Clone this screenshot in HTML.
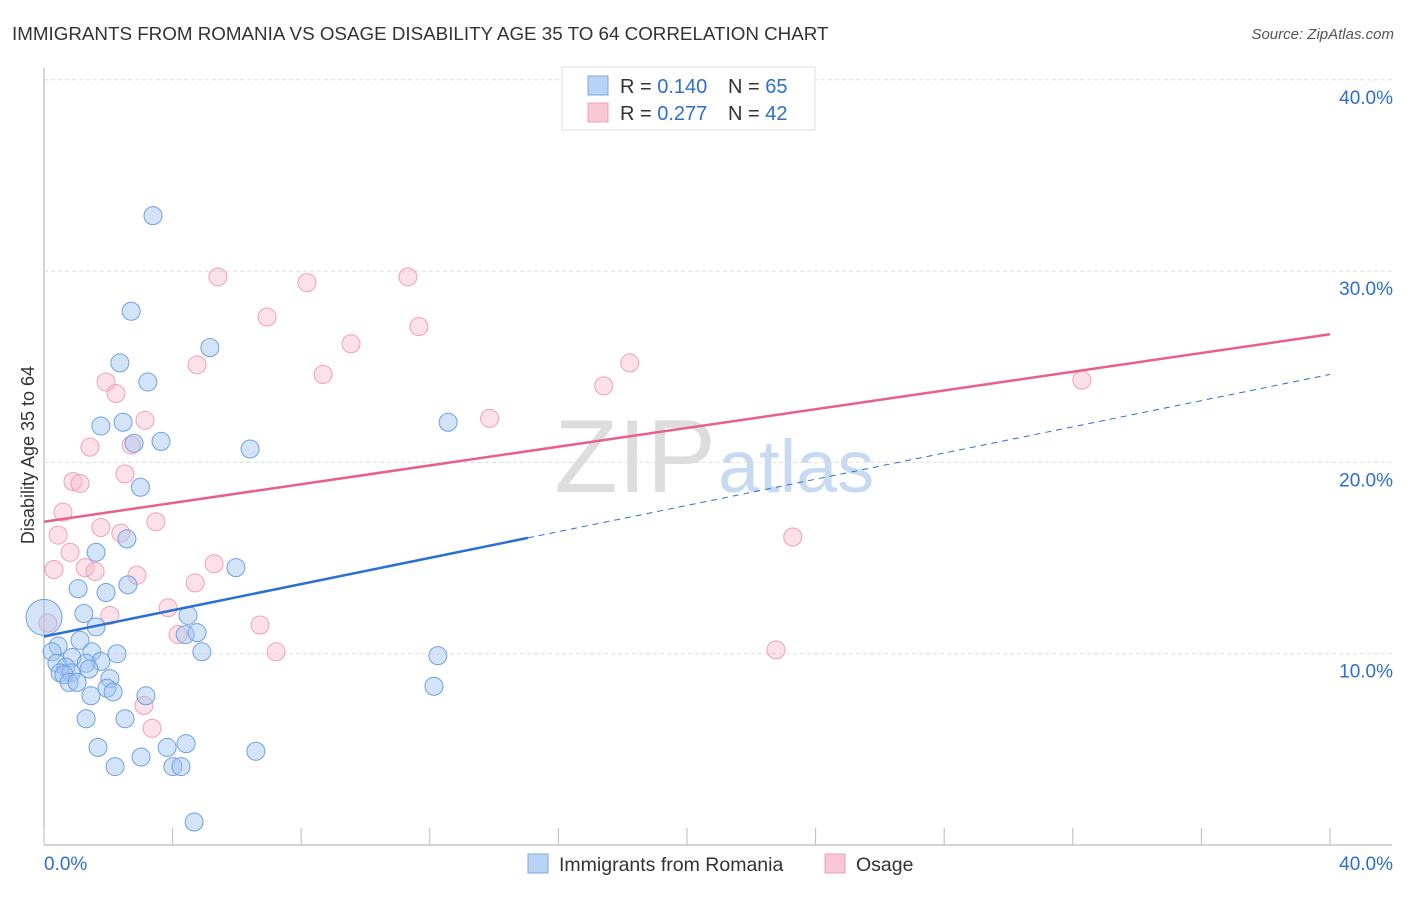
<!DOCTYPE html>
<html><head><meta charset="utf-8"><style>
body{margin:0;background:#fff;font-family:"Liberation Sans",sans-serif}
svg text{font-family:"Liberation Sans",sans-serif}
</style></head><body>
<svg id="c" width="1406" height="892">
<text x="12" y="40" font-size="18.8" fill="#333">IMMIGRANTS FROM ROMANIA VS OSAGE DISABILITY AGE 35 TO 64 CORRELATION CHART</text>
<text x="1394" y="39" font-size="15" fill="#555" text-anchor="end" font-style="italic">Source: ZipAtlas.com</text>
<text x="716" y="492" font-size="104" fill="#ddd" text-anchor="end" font-family="Liberation Serif">ZIP</text>
<text x="718" y="492" font-size="74" fill="#c8daf2">atlas</text>
<g id="grid"></g><g id="marks"></g>
<text transform="translate(34,455) rotate(-90)" font-size="18" fill="#333" text-anchor="middle">Disability Age 35 to 64</text>
<g>
<rect x="562" y="67" width="253" height="63" fill="#fff" stroke="#ddd"/>
<rect x="588" y="76" width="20" height="19" fill="#b8d3f4" stroke="#7aa8e0"/>
<rect x="588" y="103" width="20" height="19" fill="#f9c8d6" stroke="#f0a0b8"/>
<text x="620" y="93" font-size="20" fill="#333">R = <tspan fill="#2d6fcc">0.140</tspan></text>
<text x="728" y="93" font-size="20" fill="#333">N = <tspan fill="#2d6fcc">65</tspan></text>
<text x="620" y="120" font-size="20" fill="#333">R = <tspan fill="#2d6fcc">0.277</tspan></text>
<text x="728" y="120" font-size="20" fill="#333">N = <tspan fill="#2d6fcc">42</tspan></text>
</g>
<g>
<rect x="528" y="854" width="20" height="19" fill="#b8d3f4" stroke="#7aa8e0"/>
<text x="559" y="871" font-size="19.5" fill="#333">Immigrants from Romania</text>
<rect x="825" y="854" width="20" height="19" fill="#f9c8d6" stroke="#f0a0b8"/>
<text x="856" y="871" font-size="19.5" fill="#333">Osage</text>
</g>
</svg>
<script>
const yTicks=[10,20,30,40];
const xTickLabels=["0.0%","40.0%"];
const blueX=[3.39,2.71,5.16,2.36,3.23,12.57,1.77,2.46,3.64,2.8,6.41,3.0,2.58,1.62,5.97,2.61,1.06,1.93,0,1.24,4.48,1.62,4.39,4.76,1.12,0.44,4.91,2.27,0.25,1.49,12.25,0.87,1.77,0.4,1.31,0.68,1.4,0.5,0.84,0.62,2.05,0.78,1.03,1.96,12.13,2.15,1.46,3.17,1.31,2.52,1.68,3.83,4.42,6.59,3.02,2.21,4.01,4.26,4.67];
const blueY=[32.9,27.9,26.0,25.2,24.2,22.1,21.9,22.1,21.1,21.0,20.7,18.7,16.0,15.3,14.5,13.6,13.4,13.2,11.9,12.1,12.0,11.4,11.0,11.1,10.7,10.4,10.1,10.0,10.1,10.1,9.9,9.8,9.6,9.5,9.5,9.3,9.2,9.0,9.0,8.9,8.7,8.5,8.5,8.2,8.3,8.0,7.8,7.8,6.6,6.6,5.1,5.1,5.3,4.9,4.6,4.1,4.1,4.1,1.2];
const pinkX=[5.41,8.18,11.32,6.94,11.66,9.55,4.76,8.68,18.22,17.41,32.28,1.93,2.24,13.86,3.14,1.43,2.71,2.52,0.9,1.12,0.59,3.48,1.77,0.44,2.39,23.29,0.81,5.29,0.31,1.28,1.59,2.89,4.7,2.05,3.86,0.12,6.72,4.17,7.22,22.77,3.11,3.36];
const pinkY=[29.7,29.4,29.7,27.6,27.1,26.2,25.1,24.6,25.2,24.0,24.3,24.2,23.6,22.3,22.2,20.8,20.9,19.4,19.0,18.9,17.4,16.9,16.6,16.2,16.3,16.1,15.3,14.7,14.4,14.5,14.3,14.1,13.7,12.0,12.4,11.6,11.5,11.0,10.1,10.2,7.3,6.1];
const blueTrend=[10.9,24.6], blueSolidEnd=15.05, pinkTrend=[16.9,26.7];
const X=v=>44+v/40*1286, Y=v=>845-v*19.13;
const NS="http://www.w3.org/2000/svg";
function mk(t,a,p){const e=document.createElementNS(NS,t);for(const k in a)e.setAttribute(k,a[k]);p.appendChild(e);return e;}
const g=document.getElementById('grid'), m=document.getElementById('marks');
let ax=mk('line',{x1:44,y1:68,x2:44,y2:845,stroke:'#aaa'},g);


let bx=mk('line',{x1:44,y1:845,x2:1392,y2:845,stroke:'#aaa'},g);


yTicks.forEach(t=>{
 let l=mk('line',{x1:44,x2:1392,y1:Y(t),y2:Y(t),stroke:'#ddd','stroke-dasharray':'4,3'},g);
 
 
 let tx=mk('text',{x:1393,y:Y(t)+24,'font-size':19,fill:'#2d6fcc','text-anchor':'end'},g);tx.textContent=t.toFixed(1)+'%';
 
 
});
for(let i=0;i<=10;i++){let l=mk('line',{x1:X(i*4),x2:X(i*4),y1:828,y2:845,stroke:'#bbb'},g);
 
 }
let t0=mk('text',{x:44,y:870,'font-size':19,fill:'#2d6fcc'},g);t0.textContent=xTickLabels[0];


let t1=mk('text',{x:1393,y:870,'font-size':19,fill:'#2d6fcc','text-anchor':'end'},g);t1.textContent=xTickLabels[1];


pinkX.forEach((x,i)=>{let c=mk('circle',{cx:X(x),cy:Y(pinkY[i]),r:9,fill:'rgba(248,180,200,0.4)',stroke:'#f0a0b8','stroke-width':1},m);
 
 });
blueX.forEach((x,i)=>{let c=mk('circle',{cx:X(x),cy:Y(blueY[i]),r:x===0?18:9,fill:'rgba(160,196,240,0.45)',stroke:'#6fa0e0','stroke-width':1},m);
 
 });
const by=x=>blueTrend[0]+(blueTrend[1]-blueTrend[0])*x/40;
let l1=mk('line',{x1:X(0),y1:Y(by(0)),x2:X(blueSolidEnd),y2:Y(by(blueSolidEnd)),stroke:'#2a6fd4','stroke-width':2.5},m);


let l2=mk('line',{x1:X(blueSolidEnd),y1:Y(by(blueSolidEnd)),x2:X(40),y2:Y(by(40)),stroke:'#2a6fd4','stroke-width':1,'stroke-dasharray':'6,5'},m);


let l3=mk('line',{x1:X(0),y1:Y(pinkTrend[0]),x2:X(40),y2:Y(pinkTrend[1]),stroke:'#e8608a','stroke-width':2.5},m);


</script>
</body></html>
